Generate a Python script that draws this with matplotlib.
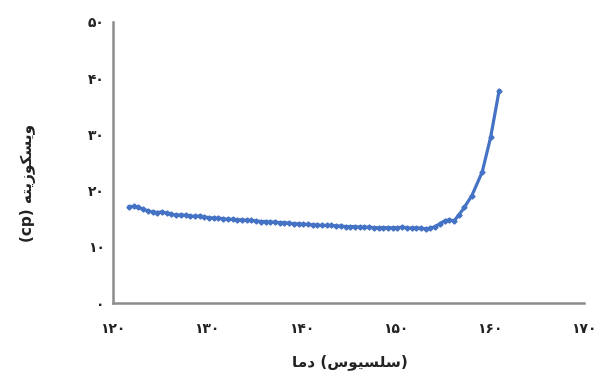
import matplotlib
matplotlib.use("Agg")
import matplotlib.pyplot as plt

temps = [121.7, 122.2, 122.7, 123.2, 123.7, 124.2, 124.7, 125.2, 125.7, 126.2,
         126.7, 127.2, 127.7, 128.2, 128.7, 129.2, 129.7, 130.2, 130.7, 131.2,
         131.7, 132.2, 132.7, 133.2, 133.7, 134.2, 134.7, 135.2, 135.7, 136.2,
         136.7, 137.2, 137.7, 138.2, 138.7, 139.2, 139.7, 140.2, 140.7, 141.2,
         141.7, 142.2, 142.7, 143.2, 143.7, 144.2, 144.7, 145.2, 145.7, 146.2,
         146.7, 147.2, 147.7, 148.2, 148.7, 149.2, 149.7, 150.2, 150.7, 151.2,
         151.7, 152.2, 152.7, 153.2, 153.7, 154.2, 154.7, 155.2, 155.7, 156.2,
         156.7, 157.3, 158.1, 159.2, 160.1, 161.0]
viscosity = [17.1, 17.2, 17.0, 16.7, 16.4, 16.2, 16.1, 16.2, 16.0, 15.8,
             15.6, 15.7, 15.6, 15.5, 15.4, 15.5, 15.3, 15.2, 15.1, 15.1,
             15.0, 14.9, 14.9, 14.8, 14.8, 14.7, 14.7, 14.6, 14.5, 14.5,
             14.4, 14.4, 14.3, 14.3, 14.2, 14.1, 14.1, 14.0, 14.0, 13.9,
             13.9, 13.8, 13.8, 13.8, 13.7, 13.7, 13.6, 13.6, 13.6, 13.5,
             13.5, 13.5, 13.4, 13.4, 13.4, 13.4, 13.4, 13.4, 13.5, 13.4,
             13.3, 13.4, 13.3, 13.2, 13.3, 13.6, 14.1, 14.6, 14.8, 14.6,
             15.6, 17.0, 19.1, 23.3, 29.5, 37.8]

x_ticks = [120, 130, 140, 150, 160, 170]
x_tick_labels = ["۱۲۰", "۱۳۰", "۱۴۰", "۱۵۰", "۱۶۰", "۱۷۰"]
y_ticks = [0, 10, 20, 30, 40, 50]
y_tick_labels = ["۰", "۱۰", "۲۰", "۳۰", "۴۰", "۵۰"]

# Pre-shaped (visual order) Persian labels
x_label = "\uFE8E\uFEE3\uFEA9 (\uFEB1\uFEEE\uFEF4\uFEB4\uFEE0\uFEB3)"
y_label = "(cp) \uFEEA\uFE98\uFEF3\uFEAF\uFEEE\uFB91\uFEB4\uFEF3\uFEED"

fig = plt.figure(figsize=(6.06, 3.81), dpi=100)
ax = fig.add_axes([0.1865, 0.2047, 0.777, 0.7376])

ax.plot(temps, viscosity, color="#4472C4", lw=2.3, marker="D", ms=2.6,
        markerfacecolor="#4472C4", markeredgecolor="#4472C4")

ax.set_xlim(120, 170)
ax.set_ylim(0, 50)
ax.set_xticks(x_ticks)
ax.set_xticklabels(x_tick_labels)
ax.set_yticks(y_ticks)
ax.set_yticklabels(y_tick_labels)
ax.tick_params(axis="y", length=0, labelsize=10, colors="#222222", pad=6)
ax.tick_params(axis="x", length=0, labelsize=10, colors="#222222", pad=14)
for lab in ax.get_xticklabels() + ax.get_yticklabels():
    lab.set_fontweight("bold")

for s in ["top", "right"]:
    ax.spines[s].set_visible(False)
for s in ["left", "bottom"]:
    ax.spines[s].set_color("#8c8c8c")
    ax.spines[s].set_linewidth(1.8)

fig.text(0.578, 0.05, x_label, ha="center", va="center", fontsize=11,
         fontweight="bold", color="#222222")
fig.text(0.047, 0.52, y_label, ha="center", va="center", fontsize=11,
         fontweight="bold", color="#222222", rotation=90)

fig.savefig("out.png", dpi=100)
